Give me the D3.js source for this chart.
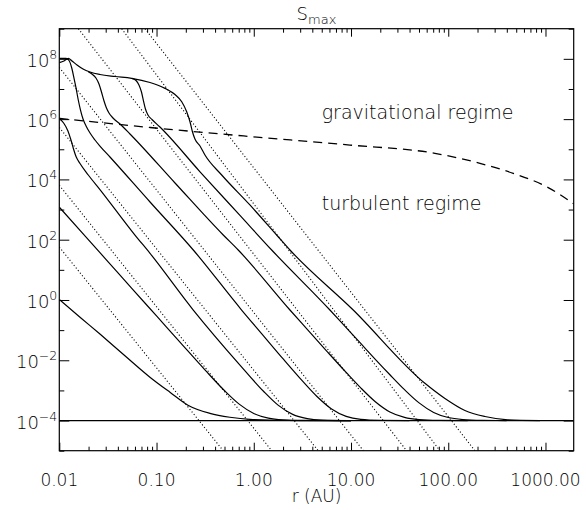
<!DOCTYPE html>
<html>
<head>
<meta charset="utf-8">
<script src="https://cdn.jsdelivr.net/npm/d3@7"></script>
<style>
  body { margin: 0; background: #fff; }
  svg { font-family: "DejaVu Sans", sans-serif; font-weight: 200; }
</style>
</head>
<body>
<svg id="smax-plot" width="586" height="510"></svg>
<script>
// curves: [r (AU), S]
const curveA = [[0.01, 1.05], [0.01633, 0.269], [0.02618, 0.0741], [0.0473, 0.01413], [0.0855, 2.75e-3], [0.1374, 8.7e-4], [0.2104, 3.24e-4], [0.354, 1.74e-4], [0.5675, 1.29e-4], [0.912, 1.1e-4], [2.98, 1.0e-4], [10, 1e-4]];
const curveB = [[0.01, 1.2e3], [0.01778, 151], [0.03162, 18.8], [0.05623, 2.34], [0.1, 0.295], [0.1778, 0.0371], [0.3162, 4.72e-3], [0.5012, 9.77e-4], [0.7079, 3.51e-4], [1, 1.72e-4], [1.413, 1.21e-4], [1.995, 1.06e-4], [3.162, 1.01e-4], [10, 1e-4]];
const curveC = [[0.01, 1.06e6], [0.01117, 7.16e5], [0.01227, 4.04e5], [0.01318, 2.03e5], [0.014, 1.02e5], [0.01486, 5.75e4], [0.01633, 3.37e4], [0.01986, 1.4e4], [0.02618, 4.62e3], [0.06, 143], [0.0857, 35.3], [0.2388, 0.465], [0.721, 6.95e-3], [1.259, 9.36e-4], [1.778, 3.25e-4], [2.512, 1.6e-4], [3.548, 1.16e-4], [5.012, 1.04e-4], [10, 1e-4]];
const curveD = [[0.01, 1.03e8], [0.01172, 1.04e8], [0.01259, 8.81e7], [0.01343, 4.97e7], [0.01416, 2.31e7], [0.01486, 1.08e7], [0.01567, 4.31e6], [0.01652, 2.0e6], [0.01754, 1.01e6], [0.01884, 5.92e5], [0.0207, 3.46e5], [0.02328, 2.03e5], [0.02618, 1.28e5], [0.0332, 5.53e4], [0.0857, 1.78e3], [0.2388, 45.5], [0.75, 0.465], [1.259, 0.0649], [1.995, 0.01127], [3.162, 2.06e-3], [4.467, 6.27e-4], [6.31, 2.42e-4], [8.913, 1.38e-4], [12.59, 1.1e-4], [19.95, 1.02e-4], [39.8, 1e-4]];
const curveE = [[0.01986, 3.74e7], [0.02168, 3.14e7], [0.02382, 2.31e7], [0.02559, 1.46e7], [0.02716, 7.94e6], [0.02884, 3.99e6], [0.03055, 2.34e6], [0.03243, 1.6e6], [0.03565, 1.09e6], [0.04207, 6.89e5], [0.05333, 3.21e5], [0.1549, 7.6e3], [0.4853, 143], [0.6918, 45.5], [2.355, 0.465], [3.548, 0.106], [5.623, 0.0202], [8.913, 3.95e-3], [12.59, 1.21e-3], [17.78, 4.21e-4], [25.12, 1.92e-4], [35.48, 1.27e-4], [50.12, 1.08e-4], [79.43, 1.015e-4], [158.5, 1e-4]];
const curveF = [[0.05585, 2.26e7], [0.06152, 1.91e7], [0.06592, 1.36e7], [0.07, 7.94e6], [0.07345, 3.99e6], [0.07691, 2.17e6], [0.08166, 1.37e6], [0.08974, 9.7e5], [0.1084, 5.48e5], [0.28, 1.79e4], [0.721, 640], [1.528, 45.5], [6.067, 0.465], [8.913, 0.121], [12.59, 0.0361], [17.78, 0.01076], [25.12, 3.31e-3], [35.48, 1.06e-3], [50.12, 3.86e-4], [70.79, 1.86e-4], [100, 1.26e-4], [141.3, 1.08e-4], [223.9, 1.015e-4], [398, 1e-4]];
const curveG = [[0.01, 7.45e7], [0.01117, 8.47e7], [0.01239, 1.04e8], [0.01352, 8.47e7], [0.01521, 6.25e7], [0.01754, 4.6e7], [0.0207, 3.66e7], [0.02618, 3.02e7], [0.03741, 2.59e7], [0.05546, 2.26e7], [0.0857, 1.64e7], [0.1222, 1.05e7], [0.1549, 6.56e6], [0.1816, 3.78e6], [0.2042, 1.76e6], [0.2208, 8.2e5], [0.2328, 4.04e5], [0.2483, 2.19e5], [0.28, 1.28e5], [0.3148, 6.44e4], [0.4677, 1.4e4], [0.912, 1.42e3], [1.718, 143], [2.355, 45.5], [10.54, 0.465], [57.5, 1.72e-3], [92.5, 5.38e-4], [148.3, 2.15e-4], [238.2, 1.36e-4], [410, 1.06e-4], [875, 1e-4]];
const floorLine = [[0.01, 1e-4], [1950, 1e-4]];

// regime boundary (dashed)
const boundary = [[0.01, 1.06e6], [0.0857, 5.27e5], [0.912, 2.65e5], [9.75, 1.38e5], [72.9, 7.35e4], [211.8, 3.42e4], [465.6, 1.59e4], [1026, 5.73e3], [1950, 1.55e3]];

// dotted power laws, start and end
const asymptotes = [
  [[0.01, 57], [0.485, 1e-5]],
  [[0.01, 6.4e3], [1.53, 1e-5]],
  [[0.01, 5.3e5], [4.6, 1e-5]],
  [[0.01, 5.2e7], [13.4, 1e-5]],
  [[0.0157, 1e9], [37.3, 1e-5]],
  [[0.0438, 1e9], [82, 1e-5]],
  [[0.076, 1e9], [188, 1e-5]],
];

const solidCurves = [curveA, curveB, curveC, curveD, curveE, curveF, curveG, floorLine];

// ticks
const xLabelValues = [0.01, 0.1, 1, 10, 100, 1000];
const yLabelExps = [8, 6, 4, 2, 0, -2, -4];
const yTickExps = d3.range(-5, 10);

// set svg, plot size, margins
const svg = d3.select("#smax-plot");
const margin = { top: 28.7, right: 12.3, bottom: 59.3, left: 59.3 };
const width = +svg.attr("width") - margin.left - margin.right;
const height = +svg.attr("height") - margin.top - margin.bottom;

const chart = svg
  .append("g")
  .attr("transform", `translate(${margin.left},${margin.top})`);

const xScale = d3.scaleLog().domain([0.01, 1950]).range([0, width]);
const yScale = d3.scaleLog().domain([1e-5, 1e9]).range([height, 0]);

chart
  .append("clipPath")
  .attr("id", "plot-clip")
  .append("rect")
  .attr("width", width)
  .attr("height", height);

const plot = chart.append("g").attr("clip-path", "url(#plot-clip)");

const line = d3
  .line()
  .x((d) => xScale(d[0]))
  .y((d) => yScale(d[1]))
  .curve(d3.curveMonotoneX);

// dotted lines
plot
  .selectAll(".asymptote")
  .data(asymptotes)
  .enter()
  .append("path")
  .attr("class", "asymptote")
  .attr("d", d3.line().x((d) => xScale(d[0])).y((d) => yScale(d[1])))
  .attr("fill", "none")
  .attr("stroke", "#000")
  .attr("stroke-width", 1.1)
  .attr("stroke-dasharray", "1.1,2.2");

// dashed boundary
plot
  .append("path")
  .datum(boundary)
  .attr("d", line)
  .attr("fill", "none")
  .attr("stroke", "#000")
  .attr("stroke-width", 1.3)
  .attr("stroke-dasharray", "9,6");

// solid curves
plot
  .selectAll(".curve")
  .data(solidCurves)
  .enter()
  .append("path")
  .attr("class", "curve")
  .attr("d", line)
  .attr("fill", "none")
  .attr("stroke", "#000")
  .attr("stroke-width", 1.2);

// axes: ticks on all four sides, pointing in
const xMinor = xScale
  .ticks()
  .filter((d) => Math.abs(Math.log10(d) - Math.round(Math.log10(d))) > 1e-6);
const yMajor = yTickExps.filter((e) => e % 2 === 0).map((e) => Math.pow(10, e));
const yMinor = yTickExps.filter((e) => e % 2 !== 0).map((e) => Math.pow(10, e));

const addAxis = (axis, values, size, transform) => {
  chart
    .append("g")
    .attr("transform", transform)
    .call(axis.tickValues(values).tickSize(-size).tickFormat(""))
    .call((g) => g.select(".domain").remove())
    .call((g) => g.selectAll("line").attr("stroke", "#000"));
};

addAxis(d3.axisBottom(xScale), xLabelValues, 8, `translate(0,${height})`);
addAxis(d3.axisBottom(xScale), xMinor, 4, `translate(0,${height})`);
addAxis(d3.axisTop(xScale), xLabelValues, 8, "translate(0,0)");
addAxis(d3.axisTop(xScale), xMinor, 4, "translate(0,0)");
addAxis(d3.axisLeft(yScale), yMajor, 10, "translate(0,0)");
addAxis(d3.axisLeft(yScale), yMinor, 5, "translate(0,0)");
addAxis(d3.axisRight(yScale), yMajor, 10, `translate(${width},0)`);
addAxis(d3.axisRight(yScale), yMinor, 5, `translate(${width},0)`);

chart
  .append("rect")
  .attr("width", width)
  .attr("height", height)
  .attr("fill", "none")
  .attr("stroke", "#000")
  .attr("stroke-width", 1.2);

// tick labels
chart
  .selectAll(".x-label")
  .data(xLabelValues)
  .enter()
  .append("text")
  .attr("class", "x-label")
  .attr("x", (d) => xScale(d))
  .attr("y", height + 35)
  .attr("text-anchor", "middle")
  .attr("font-size", 17)
  .text((d) => d3.format(".2f")(d));

const yLabels = chart
  .selectAll(".y-label")
  .data(yLabelExps)
  .enter()
  .append("text")
  .attr("class", "y-label")
  .attr("x", -2)
  .attr("y", (d) => yScale(Math.pow(10, d)) + 8)
  .attr("text-anchor", "end")
  .attr("font-size", 18);

yLabels.append("tspan").text("10");
yLabels
  .append("tspan")
  .attr("dy", -8)
  .attr("font-size", 12.5)
  .text((d) => (d < 0 ? "\u2212" + -d : d));

// titles
const title = chart
  .append("text")
  .attr("x", width / 2)
  .attr("y", -9)
  .attr("text-anchor", "middle")
  .attr("font-size", 18);
title.append("tspan").text("S");
title.append("tspan").attr("dy", 4).attr("font-size", 13).text("max");

chart
  .append("text")
  .attr("x", width / 2)
  .attr("y", height + 51)
  .attr("text-anchor", "middle")
  .attr("font-size", 17)
  .text("r  (AU)");

chart
  .append("text")
  .attr("x", 262.4)
  .attr("y", 90.3)
  .attr("font-size", 19)
  .text("gravitational regime");

chart
  .append("text")
  .attr("x", 262.4)
  .attr("y", 181.3)
  .attr("font-size", 19)
  .text("turbulent regime");
</script>
</body>
</html>
